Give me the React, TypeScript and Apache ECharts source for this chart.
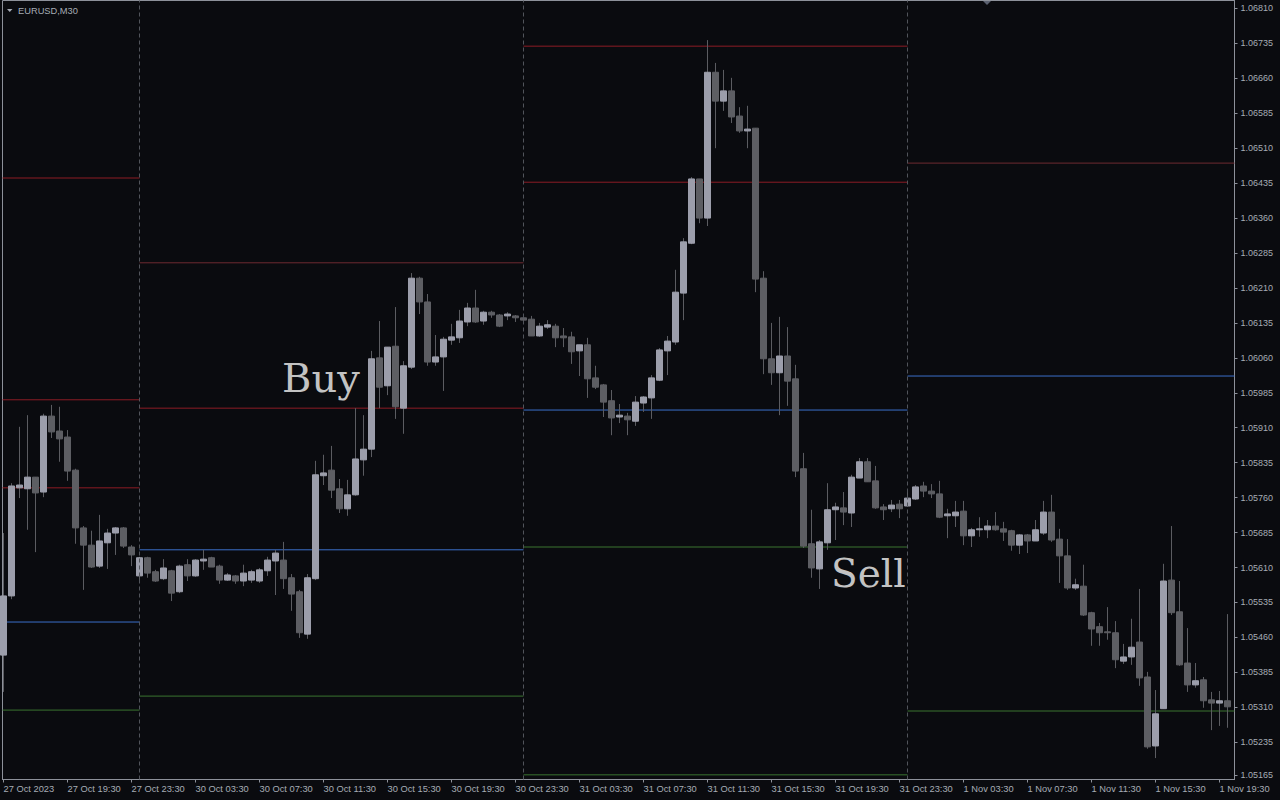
import React, { useEffect, useRef } from 'react';
import * as echarts from 'echarts';

// EURUSD M30 candles, prices in points (price x 100000), index 0 = 27 Oct 2023 15:30
const openPts = [
  105422, 105549, 105781, 105779, 105804, 105772, 105935, 105903, 105890, 105819,
  105695, 105658, 105613, 105663, 105684, 105695, 105654, 105592, 105631, 105601,
  105586, 105603, 105558, 105616, 105592, 105624, 105631, 105613, 105583, 105592,
  105581, 105583, 105581, 105603, 105624, 105626, 105588, 105558, 105467, 105586,
  105807, 105819, 105779, 105736, 105766, 105841, 105864, 106060, 106000, 106085,
  105952, 106040, 106231, 106180, 106051, 106062, 106098, 106103, 106137, 106167,
  106139, 106158, 106152, 106150, 106150, 106146, 106143, 106107, 106126, 106128,
  106107, 106105, 106075, 106088, 106017, 106002, 105968, 105933, 105935, 105924,
  105963, 105974, 106012, 106075, 106094, 106199, 106306, 106444, 106360, 106673,
  106611, 106633, 106579, 106547, 106553, 106231, 106058, 106028, 106064, 106015,
  105822, 105661, 105607, 105663, 105734, 105738, 105727, 105802, 105837, 105796,
  105740, 105736, 105746, 105742, 105757, 105785, 105774, 105768, 105721, 105721,
  105731, 105678, 105691, 105691, 105699, 105693, 105689, 105658, 105680, 105667,
  105684, 105729, 105671, 105635, 105566, 105570, 105513, 105483, 105472, 105470,
  105409, 105418, 105450, 105375, 105227, 105307, 105583, 105515, 105405, 105358,
  105369, 105326, 105319, 105324,
];
const closePts = [
  105549, 105785, 105787, 105804, 105770, 105935, 105901, 105886, 105817, 105695,
  105658, 105611, 105667, 105684, 105695, 105656, 105637, 105631, 105598, 105581,
  105609, 105555, 105613, 105592, 105626, 105628, 105611, 105583, 105594, 105581,
  105598, 105601, 105605, 105626, 105641, 105586, 105553, 105470, 105588, 105809,
  105813, 105776, 105736, 105766, 105843, 105864, 106058, 105997, 106083, 105955,
  106043, 106231, 106180, 106051, 106062, 106100, 106105, 106139, 106167, 106137,
  106158, 106152, 106128, 106154, 106146, 106141, 106107, 106128, 106131, 106103,
  106103, 106073, 106088, 106015, 105997, 105965, 105931, 105937, 105927, 105965,
  105976, 106017, 106077, 106096, 106201, 106309, 106444, 106360, 106673, 106611,
  106633, 106577, 106547, 106551, 106229, 106058, 106028, 106064, 106010, 105817,
  105656, 105609, 105665, 105734, 105740, 105729, 105804, 105837, 105794, 105738,
  105734, 105744, 105736, 105759, 105783, 105774, 105768, 105718, 105725, 105729,
  105678, 105691, 105693, 105699, 105691, 105686, 105658, 105680, 105667, 105691,
  105729, 105669, 105635, 105566, 105573, 105508, 105478, 105470, 105470, 105412,
  105418, 105439, 105373, 105225, 105296, 105581, 105513, 105401, 105358, 105367,
  105324, 105319, 105324, 105311,
];
const highPts = [
  105684, 105791, 105912, 105937, 105804, 105940, 105959, 105955, 105905, 105822,
  105699, 105689, 105723, 105693, 105697, 105697, 105658, 105633, 105633, 105605,
  105628, 105605, 105616, 105628, 105628, 105648, 105633, 105616, 105598, 105594,
  105616, 105605, 105609, 105633, 105648, 105665, 105596, 105562, 105596, 105839,
  105852, 105871, 105800, 105798, 105952, 105937, 106075, 106139, 106083, 106169,
  106053, 106242, 106234, 106197, 106109, 106105, 106133, 106163, 106178, 106206,
  106161, 106161, 106154, 106158, 106152, 106154, 106150, 106135, 106141, 106133,
  106124, 106116, 106088, 106103, 106043, 106004, 105991, 105961, 105942, 105978,
  105978, 106023, 106081, 106107, 106249, 106317, 106448, 106444, 106742, 106693,
  106678, 106661, 106598, 106601, 106553, 106246, 106135, 106148, 106126, 106045,
  105856, 105734, 105669, 105791, 105749, 105772, 105809, 105845, 105845, 105828,
  105746, 105755, 105755, 105776, 105787, 105794, 105789, 105796, 105736, 105753,
  105753, 105695, 105718, 105712, 105729, 105708, 105691, 105682, 105682, 105712,
  105753, 105766, 105693, 105671, 105586, 105616, 105515, 105491, 105525, 105495,
  105446, 105500, 105564, 105386, 105347, 105618, 105699, 105581, 105480, 105405,
  105375, 105343, 105345, 105510,
];
const lowPts = [
  105343, 105542, 105759, 105691, 105643, 105761, 105888, 105837, 105796, 105661,
  105562, 105609, 105609, 105607, 105637, 105652, 105613, 105581, 105588, 105579,
  105583, 105538, 105555, 105581, 105590, 105605, 105611, 105575, 105581, 105575,
  105570, 105577, 105577, 105592, 105551, 105564, 105517, 105459, 105457, 105583,
  105787, 105759, 105727, 105721, 105764, 105807, 105847, 105952, 105980, 105929,
  105897, 106036, 106154, 106043, 106043, 105989, 106088, 106092, 106128, 106135,
  106131, 106146, 106126, 106141, 106137, 106137, 106107, 106105, 106122, 106083,
  106083, 106047, 106021, 105974, 105993, 105933, 105894, 105920, 105894, 105914,
  105944, 105929, 106010, 106023, 106088, 106141, 106304, 106349, 106343, 106510,
  106590, 106564, 106543, 106510, 106201, 106025, 106002, 105937, 105957, 105804,
  105652, 105588, 105564, 105648, 105669, 105701, 105697, 105802, 105794, 105736,
  105712, 105729, 105716, 105740, 105755, 105761, 105759, 105716, 105673, 105697,
  105658, 105654, 105676, 105673, 105689, 105667, 105646, 105639, 105641, 105667,
  105680, 105665, 105577, 105562, 105562, 105506, 105442, 105442, 105455, 105394,
  105403, 105401, 105356, 105221, 105201, 105307, 105508, 105399, 105343, 105352,
  105309, 105261, 105270, 105266,
];

// time axis labels (every 8th candle)
const tickIndex = [0, 8, 16, 24, 32, 40, 48, 56, 64, 72, 80, 88, 96, 104, 112, 120, 128, 136, 144, 152];
const tickLabels = [
  '27 Oct 2023', '27 Oct 19:30', '27 Oct 23:30', '30 Oct 03:30', '30 Oct 07:30',
  '30 Oct 11:30', '30 Oct 15:30', '30 Oct 19:30', '30 Oct 23:30', '31 Oct 03:30',
  '31 Oct 07:30', '31 Oct 11:30', '31 Oct 15:30', '31 Oct 19:30', '31 Oct 23:30',
  '1 Nov 03:30', '1 Nov 07:30', '1 Nov 11:30', '1 Nov 15:30', '1 Nov 19:30',
];

// price scale labels
const priceTicks = [
  1.05165, 1.05235, 1.0531, 1.05385, 1.0546, 1.05535, 1.0561, 1.05685, 1.0576, 1.05835,
  1.0591, 1.05985, 1.0606, 1.06135, 1.0621, 1.06285, 1.0636, 1.06435, 1.0651, 1.06585,
  1.0666, 1.06735, 1.0681,
];

// day separators (candle index of first bar of each day)
const daySeparators = [17, 65, 113];

// daily levels
const levelDay = [0, 0, 0, 0, 0, 1, 1, 1, 1, 2, 2, 2, 2, 2, 3, 3, 3];
const levelPrice = [
  1.06446, 1.0597, 1.05781, 1.05493, 1.05304,
  1.06264, 1.05952, 1.05648, 1.05334,
  1.06729, 1.06437, 1.05948, 1.05654, 1.05165,
  1.06478, 1.06021, 1.05302,
];
const levelKind = ['R', 'R', 'R', 'B', 'G', 'r', 'R', 'B', 'G', 'R', 'R', 'B', 'G', 'G', 'r', 'B', 'G'];

const signalText = ['Buy', 'Sell'];

const X_MIN = -0.125;
const X_MAX = 153.875;
const Y_MIN = 1.05155;
const Y_MAX = 1.06827;

const BG = '#0a0b0f';
const FRAME = '#8d919a';
const LABEL = '#a6abb5';
const BULL = '#9c9eab';
const BEAR = '#5d5e63';
const WICK = '#5b5c61';
const SEP = '#51545b';
const LEVEL_COLORS: Record<string, string> = {
  R: '#8c1c25',
  r: '#6d2a31',
  B: '#3b6fc9',
  G: '#3a7430',
};

export default function App() {
  const ref = useRef<HTMLDivElement>(null);

  useEffect(() => {
    if (!ref.current) return;
    const chart = echarts.init(ref.current, null, { renderer: 'svg' });

    const n = openPts.length;
    const wickData: number[][] = [];
    const bodyData: number[][] = [];
    for (let i = 0; i < n; i++) {
      const o = openPts[i] / 1e5;
      const c = closePts[i] / 1e5;
      const h = highPts[i] / 1e5;
      const l = lowPts[i] / 1e5;
      wickData.push([i, o, c, l, h]);
      bodyData.push([i, o, c, Math.min(o, c), Math.max(o, c)]);
    }

    const dayStart = [X_MIN, ...daySeparators];
    const dayEnd = [...daySeparators, X_MAX];

    const levelSeries = levelPrice.map((p, k) => ({
      type: 'line',
      xAxisIndex: 0,
      yAxisIndex: 0,
      data: [
        [dayStart[levelDay[k]], p],
        [dayEnd[levelDay[k]], p],
      ],
      symbol: 'none',
      silent: true,
      z: 1,
      lineStyle: { color: LEVEL_COLORS[levelKind[k]], width: 1 },
    }));

    const option: any = {
      animation: false,
      backgroundColor: BG,
      grid: {
        left: 2.5,
        top: 0.5,
        right: 45.5,
        bottom: 20.5,
        show: true,
        borderColor: FRAME,
        borderWidth: 1,
        backgroundColor: 'transparent',
        containLabel: false,
        outerBoundsMode: 'none',
      },
      xAxis: {
        type: 'value',
        min: X_MIN,
        max: X_MAX,
        axisLine: { show: true, onZero: false, lineStyle: { color: FRAME, width: 1 } },
        axisTick: { show: true, length: 3, customValues: tickIndex, lineStyle: { color: FRAME } },
        axisLabel: {
          customValues: tickIndex,
          formatter: (v: number) => {
            const k = tickIndex.indexOf(Math.round(v));
            return k >= 0 ? tickLabels[k] : '';
          },
          align: 'left',
          margin: 5,
          color: LABEL,
          fontFamily: 'Liberation Sans',
          fontSize: 9.3,
        },
        splitLine: { show: false },
      },
      yAxis: {
        type: 'value',
        position: 'right',
        min: Y_MIN,
        max: Y_MAX,
        axisLine: { show: true, onZero: false, lineStyle: { color: FRAME, width: 1 } },
        axisTick: { show: true, length: 3, customValues: priceTicks, lineStyle: { color: FRAME } },
        axisLabel: {
          customValues: priceTicks,
          formatter: (v: number) => v.toFixed(5),
          margin: 6,
          color: LABEL,
          fontFamily: 'Liberation Sans',
          fontSize: 9,
        },
        splitLine: { show: false },
      },
      series: [
        ...levelSeries,
        {
          type: 'candlestick',
          name: 'wicks',
          data: wickData,
          encode: { x: 0, y: [1, 2, 3, 4] },
          barWidth: 0.2,
          z: 2,
          silent: true,
          clip: true,
          itemStyle: {
            color: WICK,
            color0: WICK,
            borderColor: WICK,
            borderColor0: WICK,
            borderColorDoji: WICK,
            borderWidth: 1,
          },
        },
        {
          type: 'candlestick',
          name: 'bodies',
          data: bodyData,
          encode: { x: 0, y: [1, 2, 3, 4] },
          barWidth: 6,
          z: 3,
          silent: true,
          clip: true,
          itemStyle: {
            color: BULL,
            color0: BEAR,
            borderColor: BULL,
            borderColor0: BEAR,
            borderColorDoji: BULL,
            borderWidth: 1,
          },
          markLine: {
            silent: true,
            symbol: ['none', 'none'],
            label: { show: false },
            lineStyle: { color: SEP, type: [4, 3], width: 1 },
            data: daySeparators.map((x) => ({ xAxis: x })),
          },
        },
      ],
      graphic: [
        {
          type: 'polygon',
          shape: { points: [[7, 9], [12.5, 9], [9.75, 12]] },
          style: { fill: LABEL },
          z: 10,
        },
        {
          type: 'text',
          x: 18,
          y: 10.5,
          style: {
            text: 'EURUSD,M30',
            font: '9.3px "Liberation Sans"',
            fill: LABEL,
            align: 'left',
            verticalAlign: 'middle',
          },
          z: 10,
        },
        {
          type: 'polygon',
          shape: { points: [[983, 1], [991, 1], [987, 5]] },
          style: { fill: '#5b6170' },
          z: 10,
        },
        {
          type: 'text',
          x: 282,
          y: 378,
          style: {
            text: signalText[0],
            font: '40px "DejaVu Serif"',
            fill: '#c3c3c3',
            align: 'left',
            verticalAlign: 'middle',
          },
          z: 10,
        },
        {
          type: 'text',
          x: 831,
          y: 573,
          style: {
            text: signalText[1],
            font: '39px "DejaVu Serif"',
            fill: '#c3c3c3',
            align: 'left',
            verticalAlign: 'middle',
          },
          z: 10,
        },
      ],
    };

    chart.setOption(option);
    return () => chart.dispose();
  }, []);

  return (
    <div
      ref={ref}
      style={{ position: 'fixed', left: 0, top: 0, width: 1280, height: 800, background: BG }}
    />
  );
}
